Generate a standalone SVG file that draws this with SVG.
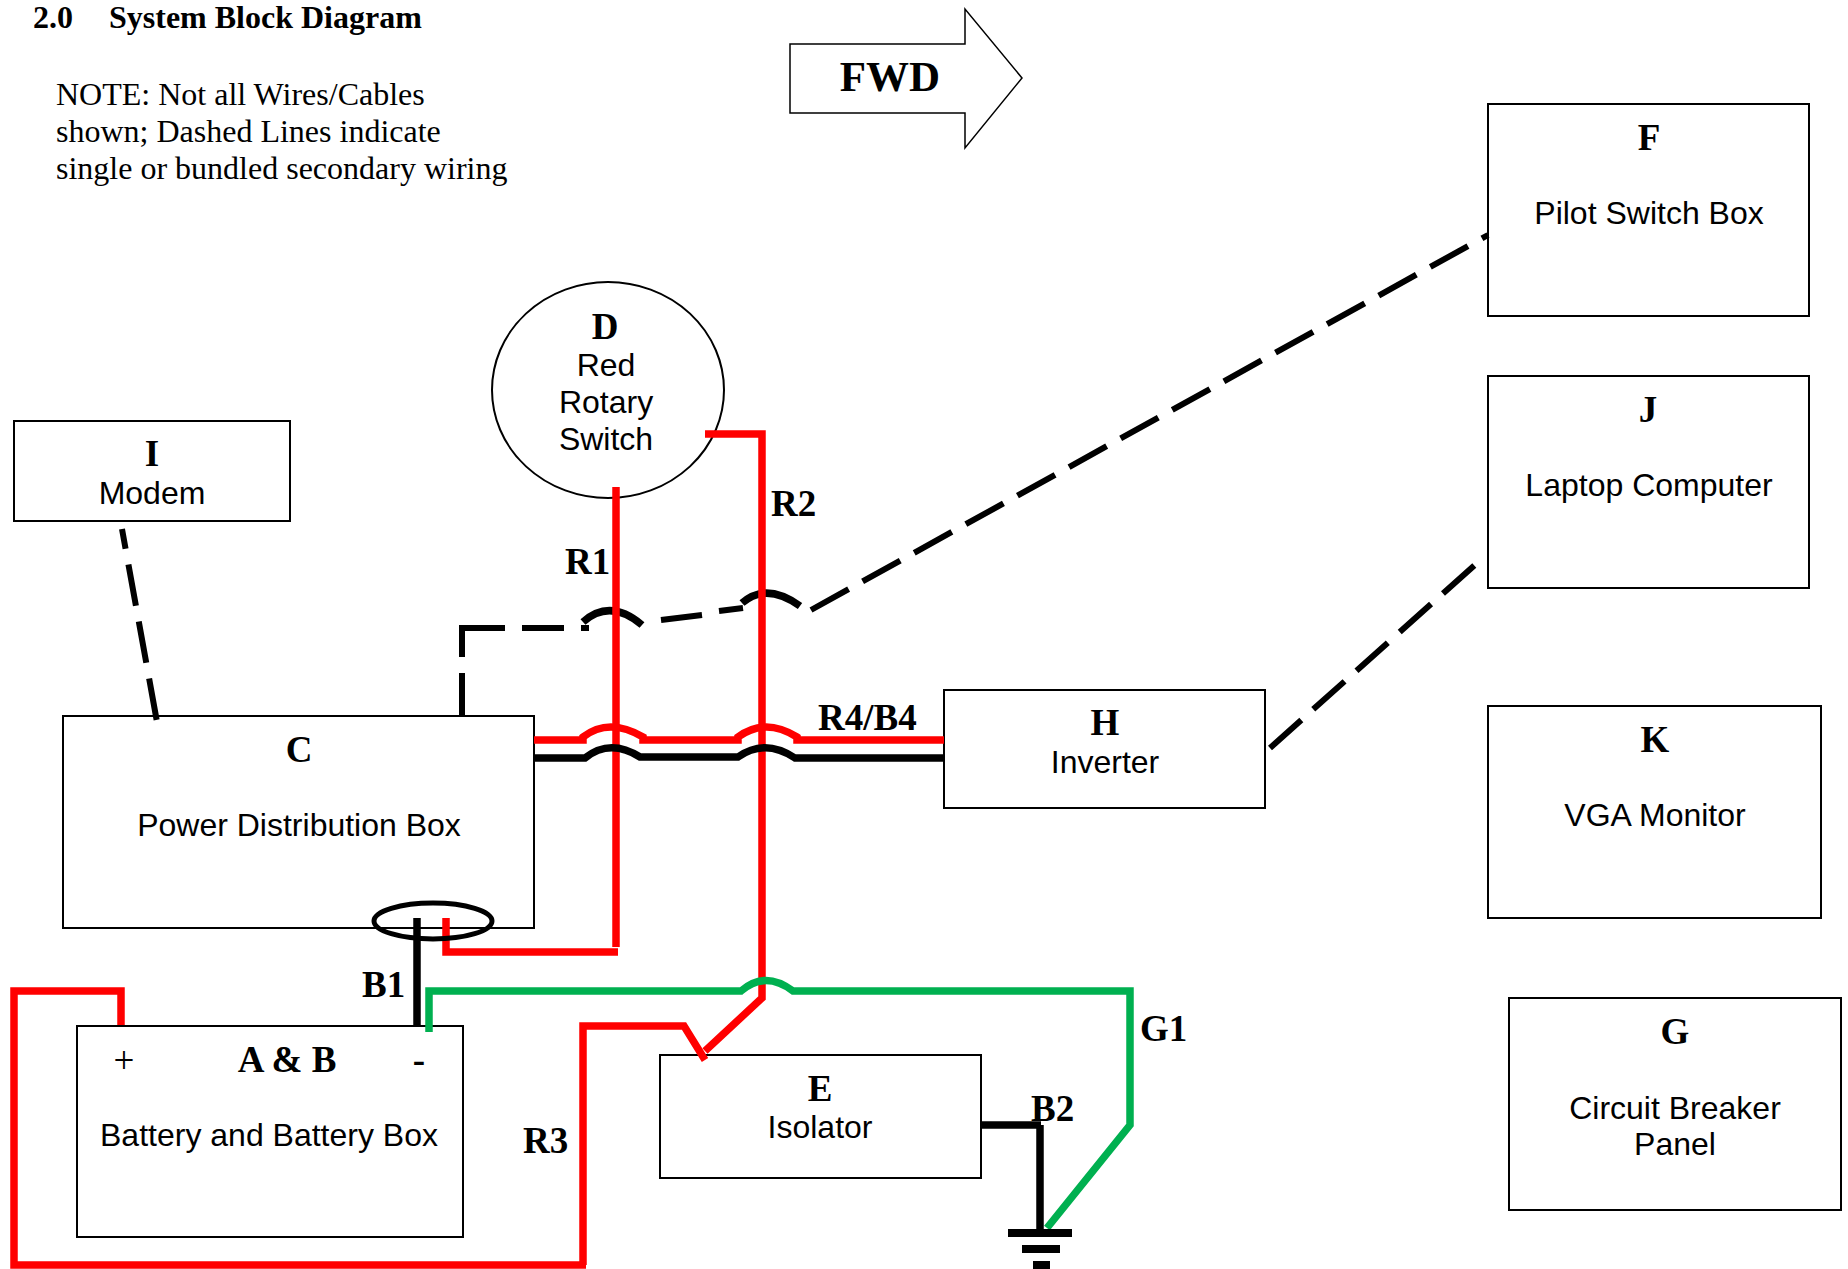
<svg xmlns="http://www.w3.org/2000/svg" width="1848" height="1269" viewBox="0 0 1848 1269">
<style>
.box{fill:#fff;stroke:#000;stroke-width:2}
.s{font-family:"Liberation Sans",Arial,sans-serif;font-size:32px;fill:#000;text-anchor:middle}
.b{font-family:"Liberation Serif","Times New Roman",serif;font-size:37px;font-weight:bold;fill:#000;text-anchor:middle}
.l{font-family:"Liberation Serif","Times New Roman",serif;font-size:37px;font-weight:bold;fill:#000}
.h{font-size:32px}
.n{font-family:"Liberation Serif","Times New Roman",serif;font-size:32px;fill:#000}
.w{fill:none;stroke-width:7.5}
.t{fill:none;stroke-width:6;stroke:#000}
.r{stroke:#f00}.k{stroke:#000}.g{stroke:#00b050}
</style>
<rect width="1848" height="1269" fill="#fff"/>
<g id="heading">
<text x="33" y="28" class="l h">2.0</text>
<text x="109" y="28" class="l h">System Block Diagram</text>
<text x="56" y="105" class="n">NOTE: Not all Wires/Cables</text>
<text x="56" y="142" class="n">shown; Dashed Lines indicate</text>
<text x="56" y="179" class="n">single or bundled secondary wiring</text>
</g>
<g id="fwd">
<polygon points="790,44 965,44 965,9 1022,78 965,148 965,113 790,113" fill="#fff" stroke="#000" stroke-width="1.5"/>
<text x="890" y="91" class="b" style="font-size:43px">FWD</text>
</g>
<g id="node-F"><rect class="box" x="1488" y="104" width="321" height="212"/>
<text x="1649" y="150" class="b">F</text><text x="1649" y="224" class="s">Pilot Switch Box</text></g>
<g id="node-J"><rect class="box" x="1488" y="376" width="321" height="212"/>
<text x="1648" y="422" class="b">J</text><text x="1649" y="496" class="s">Laptop Computer</text></g>
<g id="node-K"><rect class="box" x="1488" y="706" width="333" height="212"/>
<text x="1655" y="752" class="b">K</text><text x="1655" y="826" class="s">VGA Monitor</text></g>
<g id="node-G"><rect class="box" x="1509" y="998" width="332" height="212"/>
<text x="1675" y="1044" class="b">G</text><text x="1675" y="1119" class="s">Circuit Breaker</text><text x="1675" y="1155" class="s">Panel</text></g>
<g id="node-H"><rect class="box" x="944" y="690" width="321" height="118"/>
<text x="1105" y="735" class="b">H</text><text x="1105" y="773" class="s">Inverter</text></g>
<g id="node-I"><rect class="box" x="14" y="421" width="276" height="100"/>
<text x="152" y="466" class="b">I</text><text x="152" y="504" class="s">Modem</text></g>
<g id="node-C"><rect class="box" x="63" y="716" width="471" height="212"/>
<text x="299" y="762" class="b">C</text><text x="299" y="836" class="s">Power Distribution Box</text></g>
<g id="node-D"><ellipse class="box" cx="608" cy="390" rx="116" ry="108"/>
<text x="605" y="339" class="b">D</text><text x="606" y="376" class="s">Red</text><text x="606" y="413" class="s">Rotary</text><text x="606" y="450" class="s">Switch</text></g>
<g id="node-AB"><rect class="box" x="77" y="1026" width="386" height="211"/>
<text x="124" y="1073" class="n" style="font-size:37px;text-anchor:middle">+</text><text x="287" y="1072" class="b">A &amp; B</text><text x="419" y="1072" class="b">-</text>
<text x="269" y="1146" class="s">Battery and Battery Box</text></g>
<g id="node-E"><rect class="box" x="660" y="1055" width="321" height="123"/>
<text x="820" y="1101" class="b">E</text><text x="820" y="1138" class="s">Isolator</text></g>
<g id="connectors">
<path class="t" d="M122,529 L157,722" stroke-dasharray="20 16 42 16 42 16 42"/>
<path class="t" d="M462,716 V673 M462,657 V628 M459,628 H505 M522,628 H564 M581,628 H589"/>
<path class="w k" d="M583,622 Q610,598 642,625"/>
<path class="t" d="M661,620 L702,615 M719,611 L743,608"/>
<path class="w k" d="M742,603 Q766,582 800,606"/>
<path class="t" d="M811,610 L1488,235" stroke-dasharray="43 16"/>
<path class="t" d="M1270,748 L1477,563" stroke-dasharray="42 16"/>
<path class="w r" d="M616,487 V947"/>
<path class="w r" d="M705,434 H762 V998 L705,1051"/>
<path class="w r" d="M446,918 V952 H618"/>
<path class="w r" d="M534,740 H583 V737 Q609,717 643,737 V740 H738 V737 Q765,717 797,737 V740 H944"/>
<path class="w k" d="M534,758 H585 Q610,738 640,757 H738 Q765,738 795,758 H944"/>
<path class="w k" d="M417,918 V1025"/>
<ellipse cx="433" cy="921" rx="59" ry="18" fill="none" stroke="#000" stroke-width="5"/>
<path class="w r" d="M121,1025 V991 H14 V1265 H586 M583,1265 V1026 H684 L705,1060"/>
<path class="w g" d="M429,1032 V991 H741 Q765,970 793,991 H1130 V1125 L1047,1228"/>
<path class="w k" d="M981,1125 H1041 M1040,1125 V1233"/>
<path class="w k" style="stroke-width:8" d="M1008,1233 H1072 M1022,1249 H1060 M1033,1265 H1050"/>
</g>
<g id="wire-labels">
<text x="565" y="574" class="l">R1</text>
<text x="771" y="516" class="l">R2</text>
<text x="818" y="730" class="l">R4/B4</text>
<text x="362" y="997" class="l">B1</text>
<text x="523" y="1153" class="l">R3</text>
<text x="1140" y="1041" class="l">G1</text>
<text x="1031" y="1121" class="l">B2</text>
</g>
</svg>
